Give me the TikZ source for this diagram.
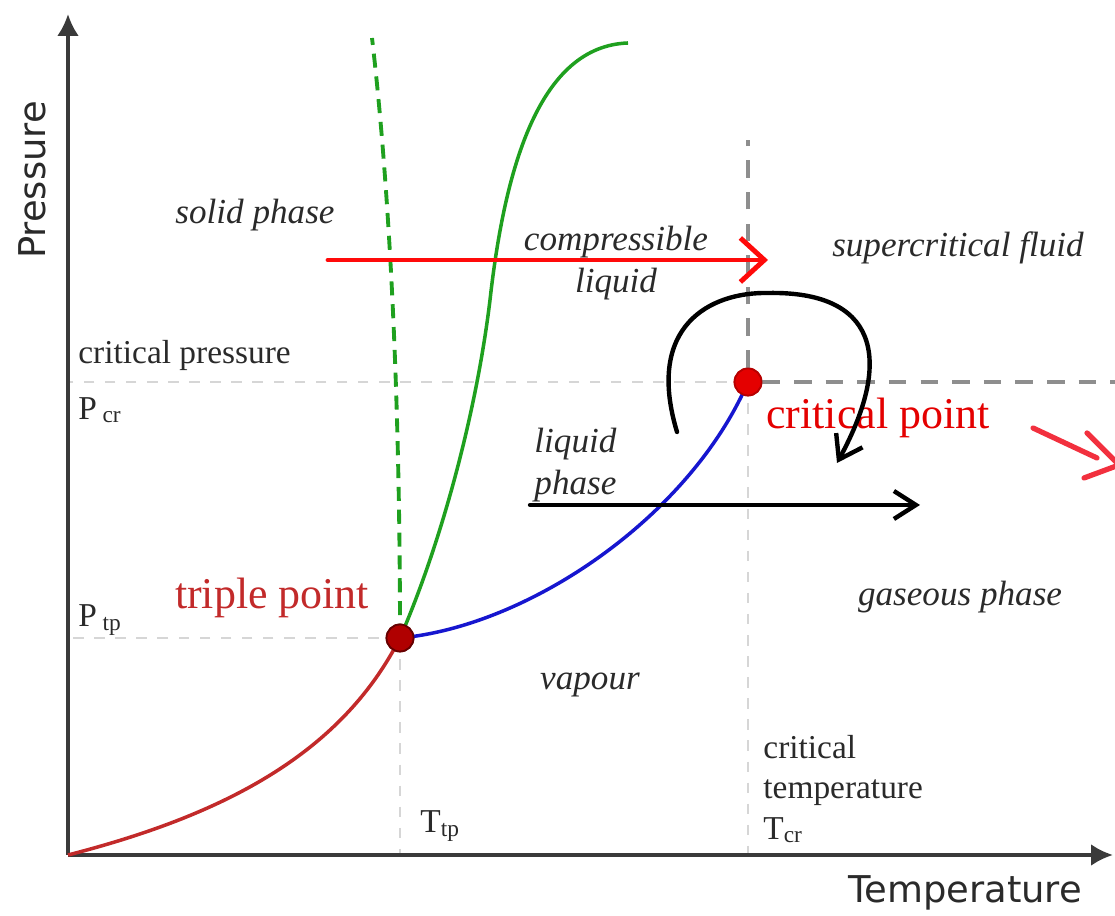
\documentclass[tikz,border=0pt]{standalone}
\usepackage{fontspec}
\setmainfont{Liberation Serif}
\setsansfont{DejaVu Sans}
\usetikzlibrary{arrows.meta}
\definecolor{axisgray}{HTML}{3A3A3A}
\definecolor{guide}{HTML}{D6D6D6}
\definecolor{guidedark}{HTML}{8E8E8E}
\definecolor{fusion}{HTML}{1FA01F}
\definecolor{boiling}{HTML}{1616CF}
\definecolor{sublimation}{HTML}{C22A2A}
\definecolor{tpred}{HTML}{B00000}
\definecolor{cpred}{HTML}{E40000}
\definecolor{ink}{HTML}{2A2A2A}
\definecolor{pen}{HTML}{F2303E}
\definecolor{marker}{HTML}{FF0A0A}
\tikzset{
  axis line/.style={
    draw=axisgray,
    line width=1.1pt,
    -{Latex[length=2.2mm,width=2.2mm]}
  },
  guide/.style={
    draw=guide,
    line width=0.8pt,
    dash pattern=on 3pt off 3pt
  },
  guide strong/.style={
    draw=guidedark,
    line width=1.1pt,
    dash pattern=on 5pt off 4pt
  },
  phase curve/.style={
    line width=1pt
  },
  point/.style={
    circle,
    draw=black!60!red,
    line width=0.5pt,
    minimum size=2.7mm,
    inner sep=0pt
  },
  phase/.style={
    font=\itshape\fontsize{10}{12}\selectfont,
    text=ink,
    align=center
  },
  note/.style={
    font=\fontsize{9.5}{11.5}\selectfont,
    text=ink,
    align=left
  },
  axis label/.style={
    font=\sffamily\fontsize{10.5}{12}\selectfont,
    text=ink
  },
  point label/.style={
    font=\fontsize{12.5}{14}\selectfont
  },
  pen arrow/.style={
    line width=1.25pt,
    line cap=round
  }
}

\begin{document}
\begin{tikzpicture}
  \clip (0,0) rectangle (11.15,9.16);

  % axes
  \coordinate (origin) at (0.68,0.61);
  \coordinate (p-top) at (0.68,9.02);
  \coordinate (t-end) at (11.13,0.61);
  \node[axis label,rotate=90] (p-label) at (0.32,7.36) {Pressure};
  \node[axis label] (t-label) at (9.65,0.23) {Temperature};

  % the two special points
  \node[point,fill=tpred] (triple) at (4.00,2.78) {};
  \node[point,fill=cpred,draw=cpred!80!black] (critical) at (7.48,5.34) {};

  % guide lines
  \draw[guide] (triple.center) -- (triple.center -| origin);
  \draw[guide] (triple.center) -- (triple.center |- origin);
  \draw[guide] (critical.center) -- (critical.center -| origin);
  \draw[guide] (critical.center) -- (critical.center |- origin);
  \draw[guide strong] (critical.east) -- (11.15,5.34);
  \draw[guide strong] (critical.north) -- (7.48,7.76);

  \draw[axis line] (origin) -- (p-top);
  \draw[axis line] (origin) -- (t-end);

  % phase boundaries
  \draw[phase curve,draw=sublimation] (origin)
    .. controls (2.2,1.0) and (3.4,1.6) .. (triple.center);
  \draw[phase curve,draw=boiling] (triple.center)
    .. controls (5.3,2.9) and (6.9,4.0) .. (critical.center);
  \draw[phase curve,draw=fusion] (triple.center)
    .. controls (4.4,3.7) and (4.76,5.0) .. (4.90,6.16)
    .. controls (5.05,7.5) and (5.4,8.7) .. (6.28,8.73);
  \draw[phase curve,draw=fusion,line width=1.1pt,dash pattern=on 4pt off 2.5pt]
    (triple.center) .. controls (4.0,5.5) and (3.87,7.5) .. (3.72,8.78);
  \node[point,fill=tpred] at (triple) {};
  \node[point,fill=cpred,draw=cpred!80!black] at (critical) {};

  % region labels
  \node[phase] (solid) at (2.55,7.01) {solid phase};
  \node[phase] (compressible) at (6.16,6.53) {compressible\\liquid};
  \node[phase] (supercritical) at (9.58,6.68) {supercritical fluid};
  \node[phase,align=left,anchor=west] (liquid) at (5.22,4.51) {liquid\\phase};
  \node[phase] (vapour) at (5.90,2.31) {vapour};
  \node[phase] (gaseous) at (9.60,3.19) {gaseous phase};

  \node[note,anchor=west] (crit-p) at (0.66,5.61) {critical pressure};
  \node[note,anchor=west] (p-cr) at (0.66,5.06) {P\,\textsubscript{cr}};
  \node[note,anchor=west] (p-tp) at (0.66,2.96) {P\,\textsubscript{tp}};
  \node[note,anchor=west] (t-tp) at (4.08,0.90) {T\textsubscript{tp}};
  \node[note,anchor=west] (crit-t) at (7.51,1.27) {critical\\temperature\\T\textsubscript{cr}};
  \node[point label,text=sublimation] (tp-label) at (2.72,3.18) {triple point};
  \node[point label,text=cpred] (cp-label) at (8.78,4.98) {critical point};

  % hand drawn marks
  \coordinate (red-start) at (3.28,6.56);
  \coordinate (red-end) at (7.68,6.56);
  \draw[pen arrow,draw=marker,line width=1.4pt,
    -{Straight Barb[length=2.4mm,width=4.4mm]}] (red-start) -- (red-end);

  \coordinate (black-start) at (5.30,4.11);
  \coordinate (black-end) at (9.20,4.11);
  \draw[pen arrow,-{Straight Barb[length=2.2mm,width=2.8mm]}]
    (black-start) -- (black-end);

  \coordinate (loop-start) at (6.77,4.84);
  \coordinate (loop-end) at (8.37,4.53);
  \draw[pen arrow,-{Straight Barb[length=2.2mm,width=3mm]}] (loop-start)
    .. controls (6.45,5.9) and (7.1,6.24) .. (7.68,6.23)
    .. controls (8.75,6.25) and (8.95,5.6) .. (loop-end);

  \coordinate (pen-tail) at (10.33,4.88);
  \coordinate (pen-head) at (10.97,4.58);
  \coordinate (pen-barb-a) at (10.87,4.83);
  \coordinate (pen-tip) at (11.19,4.51);
  \coordinate (pen-barb-b) at (10.84,4.38);
  \draw[pen arrow,draw=pen,line width=1.5pt] (pen-tail) -- (pen-head);
  \draw[pen arrow,draw=pen,line width=1.5pt]
    (pen-barb-a) -- (pen-tip) -- (pen-barb-b);
\end{tikzpicture}
\end{document}
